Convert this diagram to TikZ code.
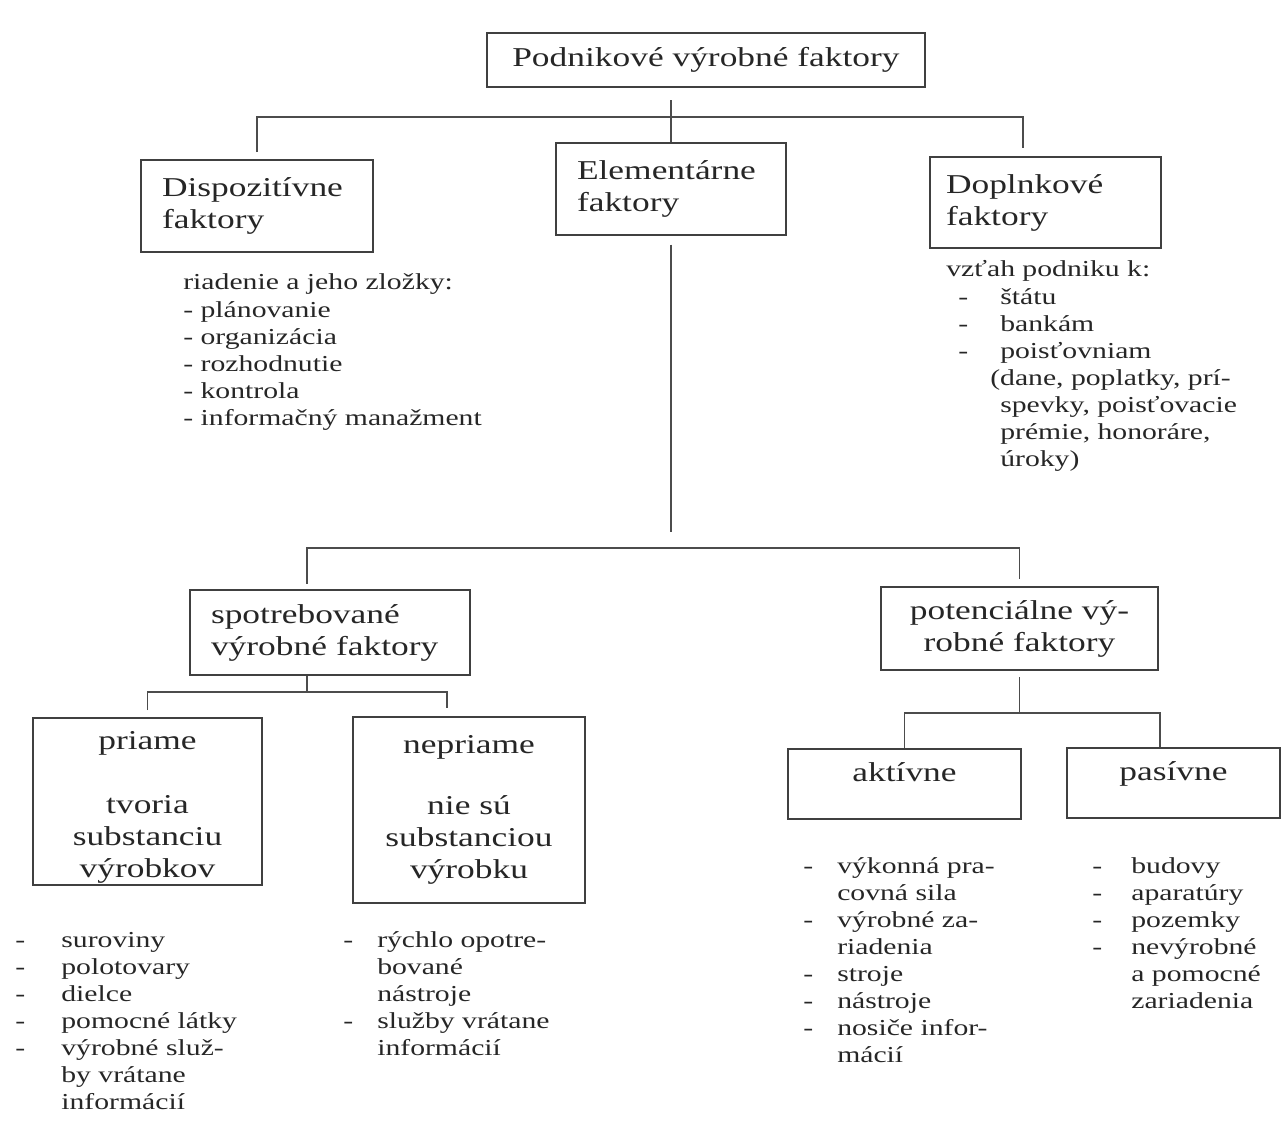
\documentclass[tikz,border=0pt]{standalone}
\usepackage{fontspec}
\setmainfont{Liberation Serif}[FakeStretch=1.3]
\newcommand{\boxfont}{\fontsize{15.5}{18.2}\selectfont}
\newcommand{\listfont}{\fontsize{13}{15.4}\selectfont}
\newcommand{\dashlist}[2]{\begin{tabular}[t]{@{}p{#1}@{}l@{}}#2\end{tabular}}
\tikzset{
  factor/.style={draw=black!75, line width=1pt, text=black!85, font=\boxfont, inner sep=0pt},
  items/.style={anchor=base west, inner sep=0pt, text=black!85, font=\listfont},
  link/.style={draw=black!70, line width=1pt}
}
\begin{document}
\begin{tikzpicture}[x=0.02cm, y=-0.02cm]
  \useasboundingbox (0,0) rectangle (1282,1138);
  \node[factor, minimum width=8.76cm, minimum height=1.08cm] (top) at (706,60) {Podnikové výrobné faktory};
  \node[factor, align=left, text width=3.80cm, minimum width=4.64cm, minimum height=1.84cm] (disp) at (257,206) {Dispozitívne\\faktory};
  \node[factor, align=left, text width=3.76cm, minimum width=4.60cm, minimum height=1.84cm] (ele) at (671,189) {Elementárne\\faktory};
  \node[factor, align=left, text width=3.98cm, minimum width=4.62cm, minimum height=1.82cm] (dop) at (1045.5,202.5) {Doplnkové\\faktory};
  \node[factor, align=left, text width=4.76cm, minimum width=5.60cm, minimum height=1.70cm] (spot) at (330,632.5) {spotrebované\\výrobné faktory};
  \node[factor, align=center, minimum width=5.54cm, minimum height=1.66cm] (pot) at (1019.5,628.5) {potenciálne vý-\\robné faktory};
  \node[factor, align=center, minimum width=4.58cm, minimum height=3.34cm] (pri) at (147.5,801.5) {\rule{0pt}{17pt}priame\\ \\tvoria\\substanciu\\výrobkov};
  \node[factor, align=center, minimum width=4.64cm, minimum height=3.72cm] (nep) at (469,810) {nepriame\\[-2pt] \\nie sú\\substanciou\\výrobku};
  \node[factor, text height=8pt, text depth=11pt, minimum width=4.66cm, minimum height=1.40cm] (akt) at (904.5,784) {aktívne};
  \node[factor, text height=8pt, text depth=11pt, minimum width=4.26cm, minimum height=1.40cm] (pas) at (1173.5,783) {pasívne};

  \node[items] (dispitems) at (183,290) {\begin{tabular}[t]{@{}l@{}}riadenie a jeho zložky:\\- plánovanie\\- organizácia\\- rozhodnutie\\- kontrola\\- informačný manažment\end{tabular}};
  \node[items] (dopitems) at (946,277) {\begin{tabular}[t]{@{}p{6.8pt}@{}p{23.9pt}@{}l@{}}
    \multicolumn{3}{@{}l@{}}{vzťah podniku k:}\\
    & - & štátu\\
    & - & bankám\\
    & - & poisťovniam\\
    & & \hspace*{-5.7pt}(dane, poplatky, prí-\\
    & & spevky, poisťovacie\\
    & & prémie, honoráre,\\
    & & úroky)
  \end{tabular}};
  \node[items] (priitems) at (15,947) {\dashlist{26.2pt}{- & suroviny\\- & polotovary\\- & dielce\\- & pomocné látky\\- & výrobné služ-\\ & by vrátane\\ & informácií}};
  \node[items] (nepitems) at (343,947) {\dashlist{19.3pt}{- & rýchlo opotre-\\ & bované\\ & nástroje\\- & služby vrátane\\ & informácií}};
  \node[items] (aktitems) at (803,873) {\dashlist{19.3pt}{- & výkonná pra-\\ & covná sila\\- & výrobné za-\\ & riadenia\\- & stroje\\- & nástroje\\- & nosiče infor-\\ & mácií}};
  \node[items] (pasitems) at (1092,873) {\dashlist{22.2pt}{- & budovy\\- & aparatúry\\- & pozemky\\- & nevýrobné\\ & a pomocné\\ & zariadenia}};

  \begin{scope}[link]
    \coordinate (bus1r) at (1023,117);
    \coordinate (bus2) at (307,548);
    \coordinate (bus3) at (307,692);
    \coordinate (bus3r) at (447,692);
    \coordinate (bus4) at (1020,713);
    \coordinate (bus4r) at (1160,713);
    \draw[shorten <=7pt] (top.south -| ele.north) -- (ele.north);
    \draw[shorten <=4pt, shorten >=4.5pt] (disp.north) |- (bus1r) -- (bus1r |- dop.north);
    \draw[shorten <=5pt, shorten >=9pt] (ele.south) -- (ele.south |- bus2);
    \draw[shorten <=3pt, shorten >=4pt] (spot.north -| bus2) |- (pot.north |- bus2) -- (pot.north);
    \draw (spot.south -| bus3) -- (bus3);
    \draw[shorten <=4pt, shorten >=4.5pt] (pri.north) |- (bus3r) -- (bus3r |- nep.north);
    \draw[shorten <=3.5pt] (pot.south) -- (pot.south |- bus4);
    \draw (akt.north) |- (bus4r) -- (bus4r |- pas.north);
  \end{scope}
\end{tikzpicture}
\end{document}
